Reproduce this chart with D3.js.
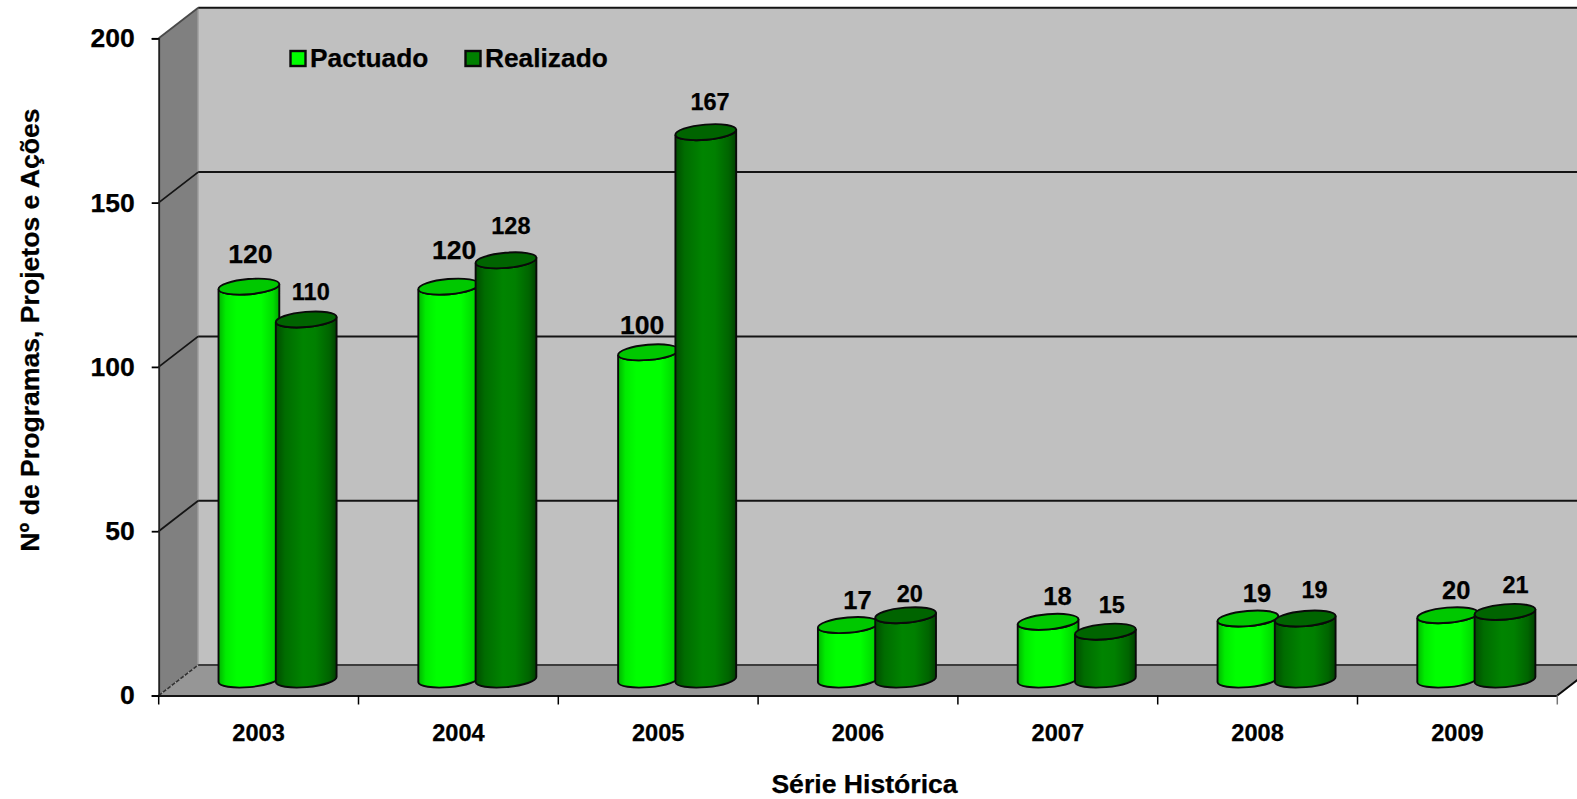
<!DOCTYPE html>
<html><head><meta charset="utf-8">
<script src="https://cdnjs.cloudflare.com/ajax/libs/d3/7.8.5/d3.min.js"></script>
<style>html,body{margin:0;padding:0;background:#fff;overflow:hidden}svg{display:block}text{font-family:"Liberation Sans",Arial,sans-serif;font-weight:bold;fill:#000;stroke:#000;stroke-width:.25px}</style>
</head><body><svg id="c" width="1577" height="799"></svg>
<script>
const years = ["2003","2004","2005","2006","2007","2008","2009"];
const seriesNames = ["Pactuado","Realizado"];
const pactuado = [120,120,100,17,18,19,20];
const realizado = [110,128,167,20,15,19,21];
const yTicks = [0,50,100,150,200];
// hand-placed label nudges of the original, relative to each cylinder top
const pactNudgeX = [1.5,5.4,-6.4,9.1,9.4,9.1,8.5];
const pactNudgeY = [-32.8,-36.6,-27.6,-25.5,-26.3,-26,-24.8];
const realNudgeX = [4.6,4.9,4.2,4.1,6.3,9.3,10.6];
const realNudgeY = [-27.6,-33.9,-30.4,-21.7,-27.1,-28.1,-27];

const svg = d3.select("#c");
const x0 = 158.7, x1 = 1557.3, y0 = 695.5, yTop = 38.3;
const depthX = 39.5, depthY = -30.5;
const x = d3.scaleBand().domain(years).range([x0,x1]);
const y = d3.scaleLinear().domain([0,200]).range([y0,yTop]);
const sub = d3.scaleOrdinal().domain(seriesNames).range([90.2,147.5]);

const defs = svg.append("defs");
function grad(id, stops){
  const g = defs.append("linearGradient").attr("id",id).attr("x1","0").attr("x2","1").attr("y1","0").attr("y2","0");
  stops.forEach(s=>g.append("stop").attr("offset",s[0]).attr("stop-color",s[1]));
}
grad("gP",[[0,"#00b400"],[.12,"#00ec00"],[.3,"#00ff00"],[.7,"#00ff00"],[.9,"#00dc00"],[1,"#00a800"]]);
grad("gR",[[0,"#004c00"],[.15,"#006c00"],[.45,"#008400"],[.65,"#008000"],[.88,"#006400"],[1,"#004000"]]);

// walls and floor
const bx = x0+depthX, by = yTop+depthY, fy = y0+depthY;
svg.append("polygon").attr("points",[[bx,by],[x1+depthX+60,by],[x1+depthX+60,fy],[bx,fy]].join(" ")).attr("fill","#c0c0c0");
svg.append("polygon").attr("points",[[x0,yTop],[bx,by],[bx,fy],[x0,y0]].join(" ")).attr("fill","#808080");
svg.append("polygon").attr("points",[[x0,y0],[x1,y0],[x1+depthX,fy],[bx,fy]].join(" ")).attr("fill","#969696");
svg.append("line").attr("x1",bx).attr("x2",bx).attr("y1",by).attr("y2",fy).attr("stroke","#a6a6a6").attr("stroke-width",1.5);

// gridlines
yTicks.forEach(t=>{
  if(t>0){
    svg.append("line").attr("x1",bx).attr("x2",1577).attr("y1",y(t)+depthY).attr("y2",y(t)+depthY).attr("stroke","#141414").attr("stroke-width",2);
    svg.append("line").attr("x1",x0).attr("x2",bx).attr("y1",y(t)).attr("y2",y(t)+depthY).attr("stroke",t===200?"#4a4a4a":"#141414").attr("stroke-width",1.8);
  }
});
svg.append("line").attr("x1",bx).attr("x2",x1+depthX).attr("y1",fy).attr("y2",fy).attr("stroke","#3c3c3c").attr("stroke-width",1.8);
svg.append("line").attr("x1",x0).attr("x2",bx).attr("y1",y0).attr("y2",fy).attr("stroke","#333").attr("stroke-width",1.6).attr("stroke-dasharray","4 1.5");
svg.append("line").attr("x1",x1).attr("x2",x1+depthX).attr("y1",y0).attr("y2",fy).attr("stroke","#0a0a0a").attr("stroke-width",2);

// axes
const yAxis = d3.axisLeft(y).tickValues(yTicks).tickSize(7).tickPadding(17);
const gy = svg.append("g").attr("transform",`translate(${x0},0)`).call(yAxis);
gy.select(".domain").attr("stroke","#222").attr("stroke-width",1.8);
gy.selectAll(".tick line").attr("stroke","#000").attr("stroke-width",1.8);
gy.selectAll("text").attr("dy","0.32em").style("font-size","26.5px").style("font-family",'"Liberation Sans"').style("font-weight","bold").attr("fill","#000");
const xAxis = d3.axisBottom(x).tickSize(0).tickPadding(29);
const gx = svg.append("g").attr("transform",`translate(0,${y0})`).call(xAxis);
gx.select(".domain").attr("stroke","#141414").attr("stroke-width",2.2);
gx.selectAll("text").style("font-size","23.6px").style("font-family",'"Liberation Sans"').style("font-weight","bold").attr("fill","#000");
years.concat(["end"]).forEach(yr=>{
  const px = yr==="end" ? x1 : x(yr);
  svg.append("line").attr("x1",px).attr("x2",px).attr("y1",y0).attr("y2",y0+9).attr("stroke",yr==="end"?"#777":"#000").attr("stroke-width",1.5);
});

// cylinders
const rx = 30.5, ry = 7.6, tilt = -5, dy = rx*Math.sin(5*Math.PI/180), dx = rx*Math.cos(5*Math.PI/180);
function cylinder(cx, topY, botY){
  const side = `M${cx-dx},${topY+dy} L${cx-dx},${botY+dy} A${rx},${ry} ${tilt} 0 0 ${cx+dx},${botY-dy} L${cx+dx},${topY-dy} A${rx},${ry} ${tilt} 0 1 ${cx-dx},${topY+dy} Z`;
  const top = `M${cx-dx},${topY+dy} A${rx},${ry} ${tilt} 0 1 ${cx+dx},${topY-dy} A${rx},${ry} ${tilt} 0 1 ${cx-dx},${topY+dy} Z`;
  return {side, top};
}
const rows = years.flatMap((yr,i)=>[
  {yr,i,s:"Pactuado",v:pactuado[i],nx:pactNudgeX[i],ny:pactNudgeY[i]},
  {yr,i,s:"Realizado",v:realizado[i],nx:realNudgeX[i],ny:realNudgeY[i]}
]);
const cx = d => x(d.yr)+sub(d.s);
const cTop = d => y(d.v)+depthY/2+0.7;
svg.append("g").selectAll("g").data(rows).join("g").each(function(d){
  const g = d3.select(this), c = cylinder(cx(d),cTop(d),y0+depthY/2-0.7);
  const P = d.s==="Pactuado";
  g.append("path").attr("d",c.side).attr("fill",`url(#${P?"gP":"gR"})`).attr("stroke","#0a0a0a").attr("stroke-width",1.9);
  g.append("path").attr("d",c.top).attr("fill",P?"#00c800":"#006400").attr("stroke","#0a0a0a").attr("stroke-width",1.9);
});
// value labels
svg.append("g").selectAll("text").data(rows).join("text")
  .attr("x",d=>cx(d)+d.nx).attr("y",d=>cTop(d)+d.ny)
  .attr("text-anchor","middle").attr("dominant-baseline","central")
  .style("font-size",d=>d.s==="Pactuado"?(d.v>=100?"26.6px":"25.5px"):"23.5px")
  .text(d=>d.v);

// legend
const legendX = d3.scaleOrdinal().domain(seriesNames).range([290.5,465.5]);
const legend = svg.append("g").selectAll("g").data(seriesNames).join("g").attr("transform",d=>`translate(${legendX(d)},51)`);
legend.append("rect").attr("width",15).attr("height",15).attr("fill",d=>d==="Pactuado"?"#00ff00":"#008000").attr("stroke","#0a0a0a").attr("stroke-width",2.4);
legend.append("text").attr("x",19.5).attr("y",16).style("font-size","26.3px").text(d=>d);

// axis titles
svg.append("text").attr("x",864.5).attr("y",793.3).attr("text-anchor","middle").style("font-size","26.6px").text("Série Histórica");
svg.append("text").attr("transform","translate(39,330) rotate(-90)").attr("text-anchor","middle").style("font-size","26.6px").text("Nº de Programas, Projetos e Ações");
</script></body></html>
